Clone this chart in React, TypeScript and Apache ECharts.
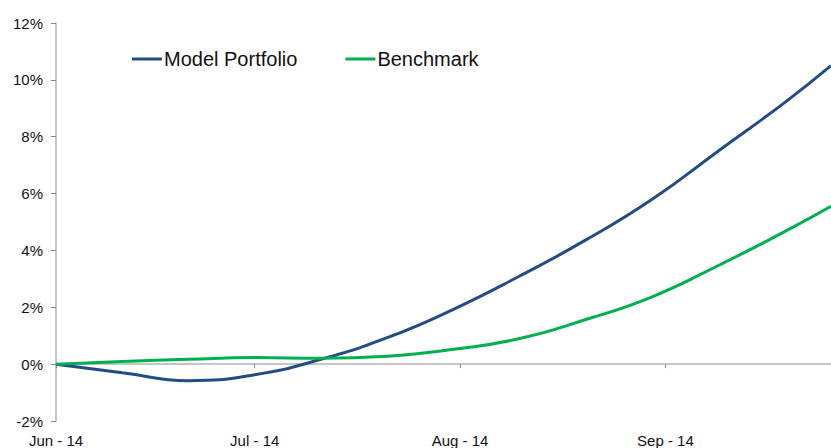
import React, { useEffect, useRef } from "react";
import * as echarts from "echarts";

// Days since 1 Jun 2014
const days = [0, 10, 20, 30, 40, 50, 60, 70, 80, 90, 100, 110, 117];
const modelValues = [0, -0.3, -0.58, -0.37, 0.17, 0.93, 1.93, 3.1, 4.37, 5.8, 7.5, 9.2, 10.5];
const benchValues = [0, 0.09, 0.17, 0.23, 0.21, 0.28, 0.52, 0.9, 1.57, 2.37, 3.47, 4.66, 5.55];

const monthTickDays = [0, 30, 61, 92];
const monthLabels = ["Jun - 14", "Jul - 14", "Aug - 14", "Sep - 14"];

const seriesNames = ["Model Portfolio", "Benchmark"];
const yTicks = { min: -2, max: 12, interval: 2 };
const xMaxDay = 117;

const FONT = "'Liberation Sans', Arial, sans-serif";

export default function App() {
  const ref = useRef<HTMLDivElement>(null);
  useEffect(() => {
    if (!ref.current) return;
    const chart = echarts.init(ref.current, undefined, { renderer: "svg" });
    const axisGray = "#B3B3B3";
    chart.setOption({
      animation: false,
      textStyle: { fontFamily: FONT },
      grid: { left: 56, right: 0, top: 23, bottom: 25, containLabel: false },
      legend: {
        data: seriesNames,
        left: 132,
        top: 49,
        padding: 0,
        icon: "rect",
        itemWidth: 30,
        itemHeight: 3,
        itemGap: 48,
        textStyle: { fontSize: 20, color: "#111", fontFamily: FONT, padding: [0, 0, 0, -3] },
      },
      xAxis: [
        {
          type: "value",
          min: 0,
          max: xMaxDay,
          position: "bottom",
          axisLine: { show: true, onZero: true, lineStyle: { color: axisGray, width: 1.5 } },
          axisTick: {
            show: true,
            customValues: monthTickDays,
            length: 4,
            lineStyle: { color: "#888" },
          },
          axisLabel: { show: false },
          splitLine: { show: false },
        },
        {
          type: "value",
          min: 0,
          max: xMaxDay,
          position: "bottom",
          axisLine: { show: false, onZero: false },
          axisTick: { show: false },
          axisLabel: {
            show: true,
            customValues: monthTickDays,
            margin: 12,
            fontSize: 15,
            color: "#111",
            fontFamily: FONT,
            formatter: (v: number) => {
              const i = monthTickDays.indexOf(Math.round(v));
              return i >= 0 ? monthLabels[i] : "";
            },
          },
          splitLine: { show: false },
        },
      ],
      yAxis: {
        type: "value",
        min: yTicks.min,
        max: yTicks.max,
        interval: yTicks.interval,
        axisLine: { show: true, lineStyle: { color: axisGray, width: 1.5 } },
        axisTick: { show: true, length: 5, lineStyle: { color: "#888" } },
        axisLabel: {
          formatter: "{value}%",
          fontSize: 15,
          color: "#111",
          margin: 13,
          fontFamily: FONT,
        },
        splitLine: { show: false },
      },
      series: [
        {
          name: seriesNames[0],
          type: "line",
          xAxisIndex: 0,
          data: days.map((d, i) => [d, modelValues[i]]),
          smooth: 0.5,
          symbol: "none",
          lineStyle: { color: "#234C87", width: 3 },
          itemStyle: { color: "#234C87" },
        },
        {
          name: seriesNames[1],
          type: "line",
          xAxisIndex: 0,
          data: days.map((d, i) => [d, benchValues[i]]),
          smooth: 0.5,
          symbol: "none",
          lineStyle: { color: "#00B050", width: 3 },
          itemStyle: { color: "#00B050" },
        },
      ],
    });
    return () => chart.dispose();
  }, []);
  return (
    <div
      ref={ref}
      style={{ position: "absolute", left: 0, top: 0, width: 831, height: 448, background: "#fff" }}
    />
  );
}
